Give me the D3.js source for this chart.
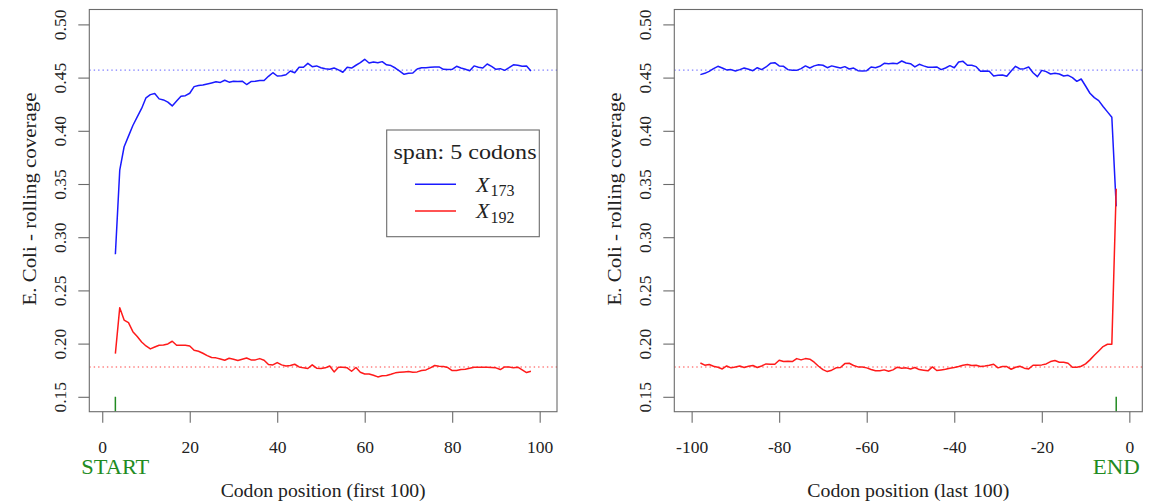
<!DOCTYPE html>
<html>
<head>
<meta charset="utf-8">
<script src="https://cdn.jsdelivr.net/npm/d3@7"></script>
<style>
  html, body { margin: 0; padding: 0; background: #fff; }
  svg { display: block; font-family: "Liberation Serif", "DejaVu Serif", serif; }
</style>
</head>
<body>
<svg id="chart" width="1154" height="504"></svg>
<script>
// ---------------- data ----------------
const leftPositions = d3.range(3, 99);      // codon positions 3..98 (first 100)
const rightPositions = d3.range(-98, -2);   // codon positions -98..-3 (last 100)

const leftBlue = [
  0.284, 0.363, 0.385, 0.395, 0.405, 0.413, 0.421, 0.431, 0.434, 0.435,
  0.430, 0.429, 0.427, 0.4234, 0.428, 0.4325, 0.433, 0.4353, 0.4415, 0.4425,
  0.443, 0.444, 0.445, 0.446, 0.4455, 0.4475, 0.4457, 0.4466, 0.4463, 0.4466,
  0.4435, 0.4463, 0.4466, 0.4473, 0.4473, 0.4512, 0.4546, 0.4515, 0.4518, 0.4527,
  0.4562, 0.4546, 0.4597, 0.4597, 0.4634, 0.4603, 0.461, 0.4593, 0.4584, 0.4578,
  0.459, 0.4572, 0.455, 0.4597, 0.459, 0.4616, 0.464, 0.4672, 0.4637, 0.4647,
  0.464, 0.465, 0.462, 0.4613, 0.459, 0.456, 0.4531, 0.454, 0.4543, 0.4581,
  0.4593, 0.4593, 0.4597, 0.46, 0.46, 0.4578, 0.4575, 0.4578, 0.4606, 0.459,
  0.4578, 0.4565, 0.461, 0.4597, 0.459, 0.4628, 0.4606, 0.4578, 0.4584, 0.4568,
  0.4593, 0.462, 0.4616, 0.4606, 0.461, 0.4562
];
const leftRed = [
  0.1906, 0.2338, 0.2221, 0.2197, 0.2112, 0.2066, 0.2015, 0.1978, 0.195, 0.1968,
  0.1984, 0.1987, 0.1997, 0.2022, 0.1984, 0.1984, 0.1984, 0.1978, 0.1937, 0.1928,
  0.1909, 0.1887, 0.1869, 0.1866, 0.1856, 0.1844, 0.1862, 0.1853, 0.1841, 0.1853,
  0.1865, 0.1847, 0.1847, 0.1859, 0.1844, 0.1803, 0.18, 0.1822, 0.18, 0.179,
  0.1794, 0.1806, 0.1781, 0.1772, 0.1766, 0.18, 0.1769, 0.1766, 0.1772, 0.179,
  0.1734, 0.1778, 0.1778, 0.1772, 0.174, 0.1775, 0.1731, 0.1715, 0.1715, 0.1703,
  0.1687, 0.1697, 0.17, 0.1712, 0.1725, 0.1731, 0.1734, 0.1737, 0.1731, 0.1734,
  0.1747, 0.1753, 0.1772, 0.1794, 0.1787, 0.1784, 0.1775, 0.1747, 0.1747, 0.1756,
  0.1759, 0.1769, 0.1778, 0.1778, 0.1778, 0.1778, 0.1775, 0.1772, 0.1756, 0.1781,
  0.1781, 0.1772, 0.1778, 0.1753, 0.1728, 0.174
];
const rightBlue = [
  0.4528, 0.454, 0.4559, 0.4584, 0.4606, 0.459, 0.4572, 0.4575, 0.4562, 0.4575,
  0.459, 0.4578, 0.4565, 0.4593, 0.4575, 0.46, 0.4634, 0.464, 0.461, 0.4606,
  0.4575, 0.4568, 0.4568, 0.4584, 0.461, 0.459, 0.461, 0.462, 0.4616, 0.4593,
  0.461, 0.46, 0.459, 0.4603, 0.4581, 0.459, 0.4565, 0.4562, 0.4565, 0.46,
  0.4593, 0.4606, 0.4634, 0.4631, 0.4634, 0.4631, 0.4656, 0.4637, 0.4631, 0.46,
  0.4625, 0.461, 0.4597, 0.4597, 0.46, 0.4575, 0.459, 0.4612, 0.4593, 0.4647,
  0.4653, 0.4616, 0.4616, 0.4603, 0.4559, 0.4562, 0.4559, 0.4515, 0.4521, 0.4525,
  0.4512, 0.4562, 0.4606, 0.4581, 0.4584, 0.46, 0.4546, 0.4509, 0.4568, 0.4556,
  0.4534, 0.454, 0.4534, 0.4515, 0.4521, 0.45, 0.4465, 0.4487, 0.4421, 0.4353,
  0.4312, 0.4284, 0.4228, 0.4178, 0.4128, 0.329
];
const rightRed = [
  0.1818, 0.1797, 0.1803, 0.1787, 0.1778, 0.1762, 0.179, 0.1772, 0.1781, 0.179,
  0.1775, 0.1787, 0.1794, 0.1775, 0.179, 0.1809, 0.1806, 0.1806, 0.1844, 0.1831,
  0.1834, 0.1831, 0.1859, 0.1847, 0.1859, 0.1853, 0.1825, 0.1787, 0.1756, 0.1737,
  0.175, 0.1772, 0.1775, 0.1812, 0.1815, 0.1794, 0.1781, 0.1781, 0.1772, 0.1756,
  0.1744, 0.1744, 0.1753, 0.174, 0.1753, 0.1778, 0.1769, 0.1772, 0.1762, 0.1775,
  0.1756, 0.175, 0.1744, 0.1781, 0.1747, 0.1753, 0.1759, 0.1769, 0.1775, 0.1784,
  0.1797, 0.1803, 0.1794, 0.1797, 0.1784, 0.179, 0.1797, 0.1806, 0.1772, 0.1784,
  0.1784, 0.1759, 0.1778, 0.1787, 0.1769, 0.1762, 0.1797, 0.1797, 0.18, 0.1809,
  0.1831, 0.1841, 0.1825, 0.1825, 0.1815, 0.1778, 0.1778, 0.1787, 0.1809, 0.1847,
  0.1891, 0.1931, 0.1972, 0.1994, 0.1994, 0.3456
];

const meanBlue = 0.457;   // dotted reference levels
const meanRed = 0.178;
const markerTop = 0.15;   // green START/END marker height
const startPos = 3, endPos = -3;

const yTicks = [0.15, 0.20, 0.25, 0.30, 0.35, 0.40, 0.45, 0.50];
const leftXTicks = [0, 20, 40, 60, 80, 100];
const rightXTicks = [-100, -80, -60, -40, -20, 0];
const seriesNames = ["X", "X"];
const seriesSubs = ["173", "192"];
const legendTitle = "span: 5 codons";
const yTitle = "E. Coli - rolling coverage";

// ---------------- layout ----------------
const svg = d3.select("#chart");
const plotTop = 9.5, plotBottom = 411.7;
const blue = "#1a1aff", red = "#ff1a1a", green = "#228B22";
const boxColor = "#6b6b6b";

const y = d3.scaleLinear().domain([0.136, 0.514]).range([plotBottom, plotTop]);

const panels = [
  { id: "L", xs: leftPositions, blueV: leftBlue, redV: leftRed,
    x: d3.scaleLinear().domain([-2.96, 103.96]).range([89.3, 557]),
    ticks: leftXTicks, title: "Codon position (first 100)", titleLen: 205,
    mark: startPos, markText: "START", markLen: 68 },
  { id: "R", xs: rightPositions, blueV: rightBlue, redV: rightRed,
    x: d3.scaleLinear().domain([-103.96, 2.96]).range([674.3, 1142.3]),
    ticks: rightXTicks, title: "Codon position (last 100)", titleLen: 202,
    mark: endPos, markText: "END", markLen: 47 }
];

panels.forEach(p => {
  const x = p.x;
  const [x0, x1] = x.range();

  svg.append("clipPath").attr("id", "clip" + p.id)
    .append("rect").attr("x", x0).attr("y", plotTop).attr("width", x1 - x0).attr("height", plotBottom - plotTop);

  const g = svg.append("g").attr("clip-path", `url(#clip${p.id})`);

  // dotted reference lines
  [[meanBlue, "#7f7fff"], [meanRed, "#ff8080"]].forEach(([v, c]) => {
    g.append("line").attr("x1", x0).attr("x2", x1).attr("y1", y(v)).attr("y2", y(v))
      .attr("stroke", c).attr("stroke-width", 1.4).attr("stroke-dasharray", "1.4,3");
  });

  const line = d3.line().x(d => x(d[0])).y(d => y(d[1]));
  g.append("path").datum(p.xs.map((xv, i) => [xv, p.blueV[i]]))
    .attr("d", line).attr("fill", "none").attr("stroke", blue).attr("stroke-width", 1.5)
    .attr("stroke-linejoin", "round");
  g.append("path").datum(p.xs.map((xv, i) => [xv, p.redV[i]]))
    .attr("d", line).attr("fill", "none").attr("stroke", red).attr("stroke-width", 1.5)
    .attr("stroke-linejoin", "round");

  // green marker
  g.append("line").attr("x1", x(p.mark)).attr("x2", x(p.mark))
    .attr("y1", y(markerTop)).attr("y2", plotBottom)
    .attr("stroke", green).attr("stroke-width", 1.5);

  // box
  svg.append("rect").attr("x", x0).attr("y", plotTop).attr("width", x1 - x0).attr("height", plotBottom - plotTop)
    .attr("fill", "none").attr("stroke", boxColor).attr("stroke-width", 1.1);

  // x axis
  const xa = svg.append("g").attr("transform", `translate(0,${plotBottom})`)
    .call(d3.axisBottom(x).tickValues(p.ticks).tickSize(11).tickFormat(d => String(d)));
  xa.select(".domain").remove();
  xa.selectAll(".tick line").attr("stroke", boxColor).attr("stroke-width", 1.1);
  xa.selectAll(".tick text").attr("y", 41.3).attr("dy", 0)
    .attr("font-size", 17.5).attr("fill", "#222").attr("font-family", "Liberation Serif");

  // y axis
  const ya = svg.append("g").attr("transform", `translate(${x0},0)`)
    .call(d3.axisLeft(y).tickValues(yTicks).tickSize(11).tickFormat(d3.format(".2f")));
  ya.select(".domain").remove();
  ya.selectAll(".tick line").attr("stroke", boxColor).attr("stroke-width", 1.1);
  ya.selectAll(".tick text").attr("x", 0).attr("dy", 0).attr("text-anchor", "middle")
    .attr("transform", "translate(-23.8,0) rotate(-90)")
    .attr("font-size", 17.5).attr("fill", "#222").attr("font-family", "Liberation Serif");

  // axis titles
  svg.append("text").attr("x", (x0 + x1) / 2).attr("y", 496.5).attr("text-anchor", "middle")
    .attr("font-size", 19).attr("fill", "#222")
    .attr("textLength", p.titleLen).attr("lengthAdjust", "spacingAndGlyphs")
    .text(p.title);
  svg.append("text").attr("text-anchor", "middle")
    .attr("transform", `translate(${x0 - 53.8},199) rotate(-90)`)
    .attr("font-size", 19).attr("fill", "#222")
    .attr("textLength", 213).attr("lengthAdjust", "spacingAndGlyphs")
    .text(yTitle);

  // START / END
  svg.append("text").attr("x", x(p.mark)).attr("y", 474.3).attr("text-anchor", "middle")
    .attr("font-size", 21).attr("fill", green)
    .attr("textLength", p.markLen).attr("lengthAdjust", "spacingAndGlyphs")
    .text(p.markText);
});

// ---------------- legend ----------------
const lg = svg.append("g");
lg.append("rect").attr("x", 386.7).attr("y", 130).attr("width", 152.6).attr("height", 106.7)
  .attr("fill", "#fff").attr("stroke", boxColor).attr("stroke-width", 1.1);
lg.append("text").attr("x", 465).attr("y", 159).attr("text-anchor", "middle")
  .attr("font-size", 21).attr("fill", "#222")
  .attr("textLength", 143).attr("lengthAdjust", "spacingAndGlyphs")
  .text(legendTitle);
[[blue, 184.3, 191.7], [red, 211, 218.3]].forEach(([c, ly, by], i) => {
  lg.append("line").attr("x1", 415).attr("x2", 456).attr("y1", ly).attr("y2", ly)
    .attr("stroke", c).attr("stroke-width", 1.5);
  const t = lg.append("text").attr("x", 476).attr("y", by).attr("fill", "#222");
  t.append("tspan").attr("font-style", "italic").attr("font-size", 22).text(seriesNames[i]);
  t.append("tspan").attr("font-size", 16).attr("dy", 4.4).attr("dx", 1).text(seriesSubs[i]);
});
</script>
</body>
</html>
